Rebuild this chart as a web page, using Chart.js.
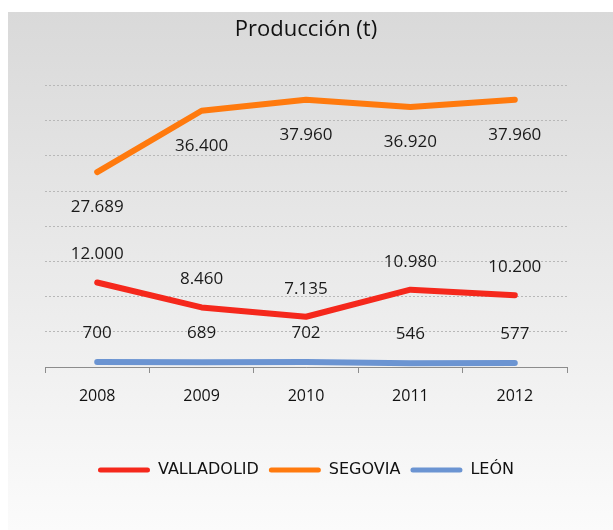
<!DOCTYPE html>
<html>
<head>
<meta charset="utf-8">
<script src="https://cdn.jsdelivr.net/npm/chart.js@4/dist/chart.umd.min.js"></script>
<style>
  html, body { margin: 0; padding: 0; background: #fff; }
  #wrap { position: absolute; left: 8px; top: 12px; width: 605px; height: 518px; }
</style>
</head>
<body>
<div id="wrap"><canvas id="prodChart"></canvas></div>
<script>
// chart data
const years = ["2008", "2009", "2010", "2011", "2012"];
const valladolid = [12000, 8460, 7135, 10980, 10200];
const segovia = [27689, 36400, 37960, 36920, 37960];
const leon = [700, 689, 702, 546, 577];

const seriesNames = ["VALLADOLID", "SEGOVIA", "LEÓN"];
const seriesColors = ["#f5281c", "#ff7a0e", "#6b94d2"];

const FONT = "'Open Sans', sans-serif";

// format numbers like 12.000
function fmt(v) {
  return v.toLocaleString("de-DE");
}

// gradient background for the whole chart
const bgPlugin = {
  id: "bg",
  beforeDraw(chart) {
    const c = chart.ctx;
    const g = c.createLinearGradient(0, 0, 0, chart.height);
    g.addColorStop(0, "#d9d9d9");
    g.addColorStop(1, "#fbfbfb");
    c.save();
    c.fillStyle = g;
    c.fillRect(0, 0, chart.width, chart.height);
    c.restore();
  }
};

// value labels next to each point
const labelPlugin = {
  id: "valueLabels",
  afterDatasetsDraw(chart) {
    const c = chart.ctx;
    c.save();
    c.font = "17px " + FONT;
    c.fillStyle = "#1a1a1a";
    c.textAlign = "center";
    c.textBaseline = "middle";
    chart.data.datasets.forEach(function (ds, i) {
      const meta = chart.getDatasetMeta(i);
      meta.data.forEach(function (pt, j) {
        c.fillText(fmt(ds.data[j]), pt.x, pt.y + ds.labelOffset);
      });
    });
    c.restore();
  }
};

const data = {
  labels: years,
  datasets: [
    {
      label: seriesNames[0],
      data: valladolid,
      borderColor: seriesColors[0],
      backgroundColor: seriesColors[0],
      labelOffset: -28
    },
    {
      label: seriesNames[1],
      data: segovia,
      borderColor: seriesColors[1],
      backgroundColor: seriesColors[1],
      labelOffset: 35
    },
    {
      label: seriesNames[2],
      data: leon,
      borderColor: seriesColors[2],
      backgroundColor: seriesColors[2],
      labelOffset: -29
    }
  ]
};

const config = {
  type: "line",
  data: data,
  options: {
    responsive: true,
    maintainAspectRatio: false,
    animation: false,
    layout: { padding: { left: 37, right: 46, top: 0, bottom: 42 } },
    elements: {
      line: { borderWidth: 6, tension: 0, borderCapStyle: "round", borderJoinStyle: "round" },
      point: { radius: 0, hoverRadius: 0 }
    },
    plugins: {
      title: {
        display: true,
        text: "Producción (t)",
        color: "#111",
        font: { family: FONT, size: 22, weight: "normal" },
        padding: { top: 5, bottom: 42 }
      },
      legend: {
        position: "bottom",
        labels: {
          color: "#111",
          font: { family: "'DejaVu Sans', sans-serif", size: 16 },
          boxWidth: 52,
          boxHeight: 5,
          padding: 10,
          useBorderRadius: true,
          borderRadius: 2.5,
          generateLabels(chart) {
            const items = Chart.defaults.plugins.legend.labels.generateLabels(chart);
            items.forEach(function (it) { it.lineWidth = 0; });
            return items;
          }
        }
      },
      tooltip: { enabled: false }
    },
    scales: {
      x: {
        offset: true,
        grid: {
          offset: true,
          drawOnChartArea: false,
          drawTicks: true,
          tickLength: 6,
          color: "#8c8c8c"
        },
        border: { color: "#8c8c8c" },
        ticks: {
          color: "#111",
          font: { family: FONT, size: 16 },
          padding: 14
        },
        afterFit(scale) { scale.height = 85; }
      },
      y: {
        min: 0,
        max: 40000,
        ticks: { display: false, stepSize: 5000 },
        border: { display: false, dash: [2, 2] },
        grid: {
          color: "#b8b8b8",
          lineWidth: 1,
          drawTicks: false
        },
        afterFit(scale) { scale.width = 0; }
      }
    }
  },
  plugins: [bgPlugin, labelPlugin]
};

const prodChart = new Chart(document.getElementById("prodChart"), config);
</script>
</body>
</html>
